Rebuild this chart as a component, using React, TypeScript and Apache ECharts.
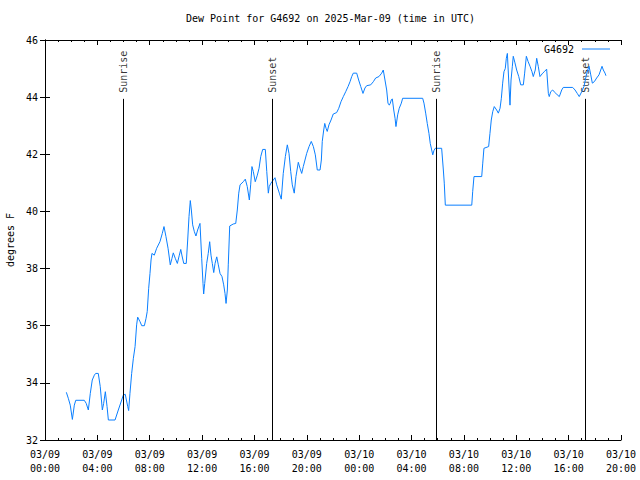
import React, { useEffect, useRef } from "react";
import * as echarts from "echarts";

const stationName = "G4692";
const titleText = "Dew Point for G4692 on 2025-Mar-09 (time in UTC)";
const yAxisName = "degrees F";

// hours since 2025-03-09 00:00 UTC
const hours = [
  1.63, 1.78, 1.93, 2.09, 2.24, 2.35, 3.0, 3.15, 3.31, 3.46, 3.61, 3.77, 3.87, 4.07, 4.22, 4.38, 4.48, 4.61, 4.74, 4.84,
  5.35, 5.6, 5.86, 5.98, 6.13, 6.32, 6.39, 6.49, 6.62, 6.75, 6.88, 7.0, 7.08, 7.26, 7.39, 7.59, 7.72, 7.81, 7.92, 8.02,
  8.1, 8.17, 8.35, 8.53, 8.78, 8.96, 9.09, 9.24, 9.4, 9.57, 9.7, 9.8, 9.95, 10.11, 10.26, 10.37, 10.47, 10.6, 10.79, 10.9,
  11.0, 11.1, 11.18, 11.28, 11.41, 11.53, 11.66, 11.84, 11.97, 12.07, 12.12, 12.2, 12.35, 12.47, 12.58, 12.68, 12.78, 12.89, 12.99, 13.12,
  13.24, 13.37, 13.52, 13.65, 13.75, 13.83, 13.93, 14.0, 14.11, 14.38, 14.57, 14.69, 14.8, 14.9, 15.15, 15.3, 15.45, 15.61, 15.71, 15.81,
  15.91, 16.06, 16.22, 16.35, 16.48, 16.63, 16.83, 16.94, 17.06, 17.13, 17.26, 17.44, 17.57, 17.7, 17.9, 18.05, 18.2, 18.36, 18.51, 18.64,
  18.77, 18.89, 19.04, 19.17, 19.35, 19.48, 19.61, 19.73, 19.86, 19.99, 20.17, 20.34, 20.5, 20.65, 20.8, 21.01, 21.11, 21.18, 21.29, 21.37,
  21.47, 21.56, 21.69, 21.85, 22.02, 22.28, 22.44, 22.61, 22.79, 22.97, 23.15, 23.3, 23.43, 23.55, 23.81, 23.96, 24.12, 24.29, 24.44, 24.57,
  24.88, 25.08, 25.26, 25.51, 25.72, 25.84, 25.97, 26.1, 26.2, 26.3, 26.38, 26.45, 26.53, 26.64, 26.74, 26.81, 26.94, 27.06, 27.22, 27.32,
  28.85, 28.95, 29.08, 29.2, 29.33, 29.43, 29.54, 29.62, 29.71, 29.81, 30.3, 30.43, 30.5, 30.58, 32.6, 32.67, 32.77, 33.36, 33.44, 33.53,
  33.89, 33.99, 34.09, 34.2, 34.32, 34.5, 34.63, 34.76, 34.86, 34.96, 35.06, 35.16, 35.24, 35.32, 35.42, 35.52, 35.6, 35.7, 35.77, 35.9,
  36.03, 36.19, 36.34, 36.54, 36.64, 36.77, 36.9, 37.05, 37.2, 37.3, 37.45, 37.56, 37.68, 37.81, 38.02, 38.14, 38.32, 38.45, 38.52, 38.63,
  38.78, 38.96, 39.13, 39.29, 39.47, 39.59, 40.31, 40.49, 40.66, 40.81, 41.0, 41.17, 41.33, 41.46, 41.56, 41.69, 41.81, 41.96, 42.14, 42.32,
  42.45, 42.55, 42.65, 42.78, 42.85,
];

const dewPoint = [
  33.67, 33.46, 33.22, 32.72, 33.22, 33.39, 33.39, 33.28, 33.05, 33.63, 34.1, 34.27, 34.33, 34.33, 33.87, 33.05, 33.28, 33.69, 33.17, 32.7,
  32.7, 33.05, 33.4, 33.57, 33.6, 33.17, 33.03, 33.63, 34.33, 34.86, 35.27, 36.03, 36.3, 36.14, 36.0, 36.0, 36.26, 36.5, 37.31, 37.83,
  38.3, 38.53, 38.47, 38.71, 38.94, 39.23, 39.47, 39.12, 38.71, 38.13, 38.36, 38.55, 38.36, 38.18, 38.47, 38.67, 38.44, 38.18, 38.18, 39.0,
  39.82, 40.38, 40.05, 39.53, 39.29, 39.14, 39.35, 39.58, 38.36, 37.48, 37.11, 37.48, 38.18, 38.53, 38.94, 38.47, 38.18, 37.86, 38.18, 38.41,
  38.13, 37.83, 37.72, 37.43, 37.13, 36.78, 37.25, 38.13, 39.49, 39.56, 39.58, 40.05, 40.64, 40.93, 41.04, 41.13, 40.87, 40.4, 40.93, 41.57,
  41.4, 41.04, 41.27, 41.51, 41.92, 42.17, 42.17, 41.4, 40.64, 40.87, 40.99, 41.1, 41.18, 40.93, 40.64, 40.43, 41.33, 41.92, 42.33, 42.03,
  41.4, 40.93, 40.64, 41.22, 41.72, 41.51, 41.33, 41.57, 41.8, 42.03, 42.27, 42.45, 42.27, 41.98, 41.45, 41.45, 41.8, 42.45, 42.85, 43.08,
  42.91, 42.8, 43.03, 43.2, 43.41, 43.46, 43.61, 43.84, 44.02, 44.19, 44.37, 44.54, 44.72, 44.84, 44.84, 44.6, 44.37, 44.13, 44.32, 44.4,
  44.43, 44.54, 44.67, 44.72, 44.84, 44.95, 44.6, 44.25, 43.79, 43.72, 43.79, 43.9, 43.94, 43.55, 43.26, 42.97, 43.38, 43.61, 43.79, 43.96,
  43.96, 43.79, 43.44, 43.08, 42.73, 42.38, 42.15, 41.98, 42.13, 42.21, 42.21, 41.45, 40.99, 40.22, 40.22, 40.69, 41.22, 41.22, 41.69, 42.21,
  42.27, 42.73, 43.2, 43.49, 43.67, 43.55, 43.44, 43.61, 43.96, 44.49, 44.89, 45.0, 45.36, 45.53, 44.6, 43.72, 44.6, 45.08, 45.43, 45.2,
  44.95, 44.72, 44.43, 44.43, 44.84, 45.43, 45.25, 45.08, 44.89, 44.72, 44.95, 45.36, 45.08, 44.72, 44.84, 44.89, 44.98, 44.13, 44.02, 44.19,
  44.25, 44.16, 44.08, 44.02, 44.25, 44.34, 44.34, 44.25, 44.13, 44.02, 44.19, 44.37, 44.72, 44.95, 45.08, 44.78, 44.49, 44.54, 44.67, 44.78,
  44.95, 45.08, 44.95, 44.84, 44.75,
];

const sunEventNames = ["Sunrise", "Sunset", "Sunrise", "Sunset"];
const sunEventHours = [5.96, 17.34, 29.87, 41.25];

const xMin = 0;
const xMax = 44;
const xStep = 4;
const yMin = 32;
const yMax = 46;
const yStep = 2;
const markerTop = 43.94;
const markerLabelY = 44.15;

const FONT = "'DejaVu Sans Mono', 'Liberation Mono', monospace";

const pad = (n: number) => (n < 10 ? "0" + n : "" + n);
const xLabel = (v: number) => {
  const day = 9 + Math.floor(v / 24);
  const hr = Math.round(v % 24);
  return "03/" + pad(day) + "\n" + pad(hr) + ":00";
};

export default function App() {
  const ref = useRef<HTMLDivElement>(null);
  useEffect(() => {
    if (!ref.current) return;
    document.body.style.margin = "0";
    const chart = echarts.init(ref.current, null, { renderer: "svg" });
    const lineData = hours.map((h, i) => [h, dewPoint[i]]);
    const markLines = sunEventHours.map((h) => [
      { coord: [h, yMin] },
      { coord: [h, markerTop] },
    ]);
    const labelData = sunEventHours.map((h, i) => ({
      name: sunEventNames[i],
      value: [h, markerLabelY],
    }));
    const axisLineStyle = { color: "#000", width: 1 };
    chart.setOption({
      animation: false,
      backgroundColor: "#fff",
      textStyle: { fontFamily: FONT },
      title: {
        text: titleText,
        left: 186,
        top: 13,
        padding: 0,
        textStyle: { fontFamily: FONT, fontSize: 10, fontWeight: "normal", color: "#000" },
      },
      legend: {
        data: [{ name: stationName, icon: "rect" }],
        right: 30,
        top: 44,
        align: "right",
        itemWidth: 28,
        itemHeight: 1,
        padding: 0,
        textStyle: { fontFamily: FONT, fontSize: 10, color: "#000", padding: [0, 3, 0, 0] },
      },
      grid: {
        left: 45,
        right: 19,
        top: 40,
        bottom: 40,
        containLabel: false,
        outerBoundsMode: "none",
      },
      xAxis: [
        {
          type: "value",
          min: xMin,
          max: xMax,
          interval: xStep,
          axisLine: { show: true, lineStyle: axisLineStyle },
          axisTick: { show: true, inside: true, length: 5, lineStyle: axisLineStyle },
          minorTick: { show: true, splitNumber: 4, length: 2, lineStyle: axisLineStyle },
          splitLine: { show: false },
          axisLabel: {
            formatter: xLabel,
            fontFamily: FONT,
            fontSize: 10,
            color: "#000",
            margin: 7,
            lineHeight: 14,
            showMinLabel: true,
            showMaxLabel: true,
          },
        },
        {
          type: "value",
          position: "top",
          min: xMin,
          max: xMax,
          interval: xStep,
          axisLine: { show: true, lineStyle: axisLineStyle },
          axisTick: { show: true, inside: true, length: 5, lineStyle: axisLineStyle },
          minorTick: { show: true, splitNumber: 4, length: 2, lineStyle: axisLineStyle },
          splitLine: { show: false },
          axisLabel: { show: false },
        },
      ],
      yAxis: [
        {
          type: "value",
          min: yMin,
          max: yMax,
          interval: yStep,
          name: yAxisName,
          nameLocation: "middle",
          nameGap: 30,
          nameRotate: 90,
          nameTextStyle: { fontFamily: FONT, fontSize: 10, color: "#000" },
          axisLine: { show: true, lineStyle: axisLineStyle },
          axisTick: { show: true, inside: true, length: 5, lineStyle: axisLineStyle },
          splitLine: { show: false },
          axisLabel: { fontFamily: FONT, fontSize: 10, color: "#000", margin: 7 },
        },
        {
          type: "value",
          position: "right",
          min: yMin,
          max: yMax,
          interval: yStep,
          axisLine: { show: true, lineStyle: axisLineStyle },
          axisTick: { show: true, inside: true, length: 5, lineStyle: axisLineStyle },
          splitLine: { show: false },
          axisLabel: { show: false },
        },
      ],
      series: [
        {
          name: stationName,
          type: "line",
          data: lineData,
          symbol: "none",
          lineStyle: { color: "#0a7fff", width: 1 },
          itemStyle: { color: "#0a7fff" },
          markLine: {
            silent: true,
            symbol: ["none", "none"],
            label: { show: false },
            lineStyle: { color: "#000", width: 1, type: "solid" },
            data: markLines,
          },
        },
        {
          name: "events",
          type: "scatter",
          data: labelData,
          symbolSize: 0.1,
          itemStyle: { color: "transparent" },
          silent: true,
          label: {
            show: true,
            formatter: (p: any) => p.name,
            position: [1, 0],
            rotate: 90,
            align: "left",
            verticalAlign: "middle",
            fontFamily: FONT,
            fontSize: 10,
            color: "#000",
          },
        },
      ],
    });
    return () => chart.dispose();
  }, []);
  return <div ref={ref} style={{ width: 640, height: 480 }} />;
}
